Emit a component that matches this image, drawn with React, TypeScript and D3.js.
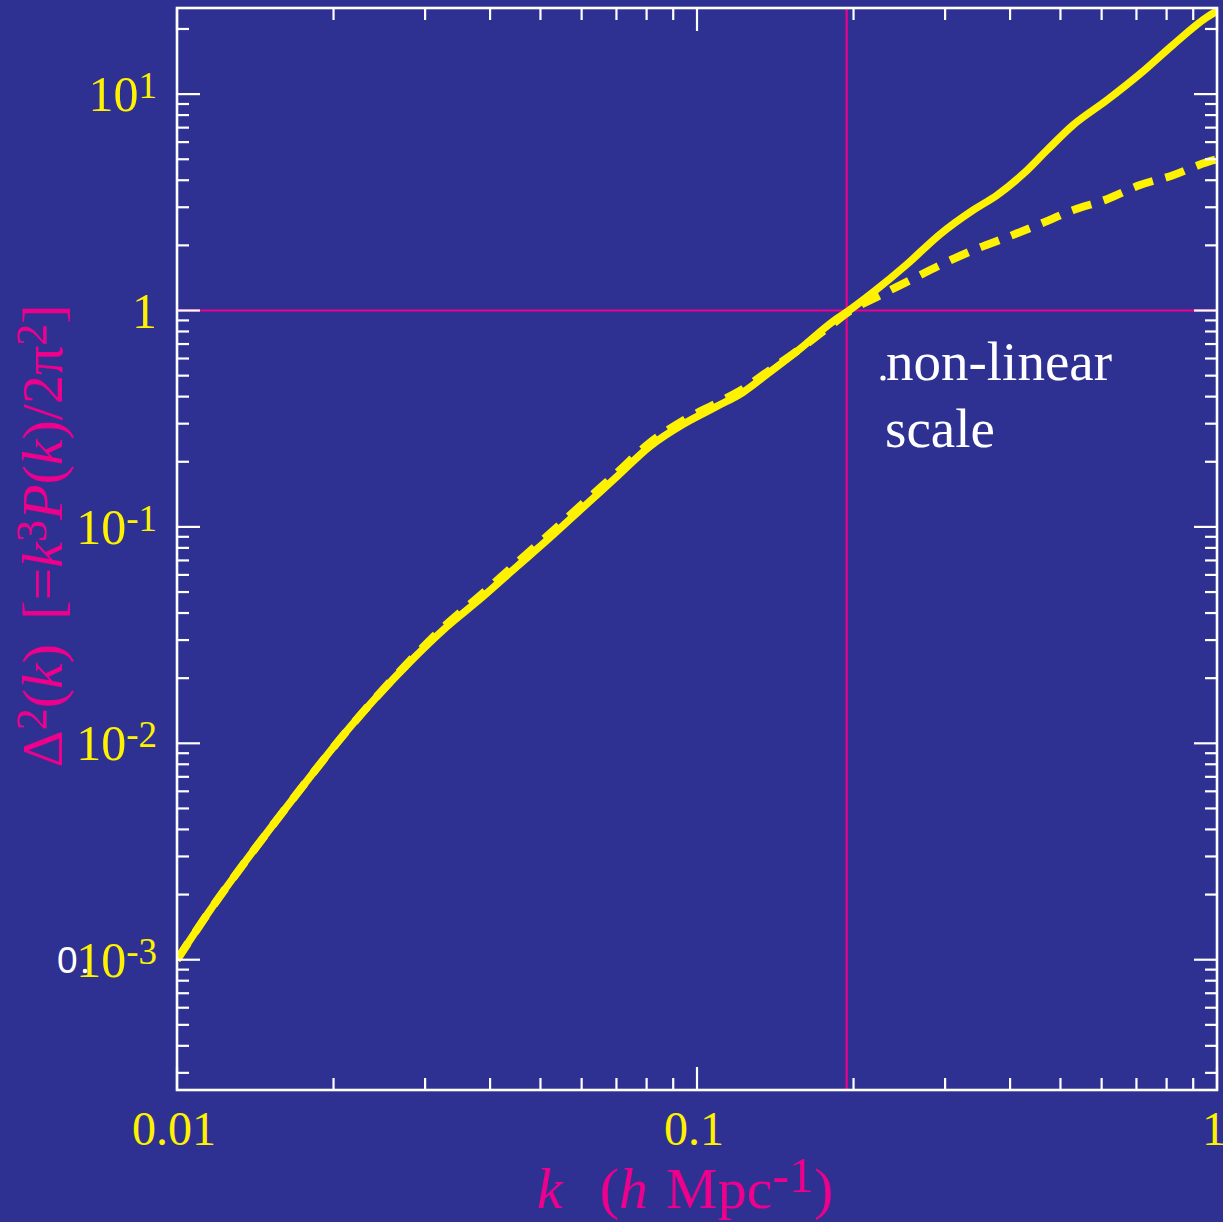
import React from "react";
import * as d3 from "d3";

// k values (h/Mpc) for the non-linear (solid) curve
const kSolid = [0.01, 0.01159, 0.01344, 0.01557, 0.01804, 0.02092, 0.02425, 0.0281, 0.03258, 0.03878, 0.04506, 0.05217, 0.06036, 0.07017, 0.08122, 0.094, 0.1093, 0.1226, 0.1363, 0.1578, 0.1826, 0.1943, 0.2181, 0.2534, 0.2933, 0.3396, 0.3775, 0.4235, 0.4711, 0.5286, 0.6143, 0.7111, 0.823, 0.9567, 1.0];
const deltaSolid = [0.001, 0.0017, 0.00278, 0.00444, 0.00702, 0.01096, 0.01644, 0.02388, 0.0336, 0.0477, 0.0656, 0.0893, 0.123, 0.171, 0.236, 0.298, 0.361, 0.419, 0.507, 0.665, 0.89, 0.985, 1.214, 1.636, 2.25, 2.91, 3.41, 4.27, 5.51, 7.19, 9.38, 12.4, 16.9, 22.7, 24.2];

// k values for the linear (dashed) curve
const kDashed = [0.01, 0.01159, 0.01344, 0.01557, 0.01804, 0.02092, 0.02425, 0.0281, 0.03258, 0.03878, 0.04506, 0.05217, 0.06036, 0.07017, 0.08122, 0.094, 0.1093, 0.1226, 0.1363, 0.1578, 0.1826, 0.1943, 0.2249, 0.2568, 0.2933, 0.3396, 0.3946, 0.4566, 0.5286, 0.6143, 0.7111, 0.823, 0.9567, 1.0];
const deltaDashed = [0.001, 0.0017, 0.00278, 0.00444, 0.00702, 0.01096, 0.0165, 0.0242, 0.0345, 0.0495, 0.0684, 0.0932, 0.1285, 0.178, 0.245, 0.31, 0.374, 0.434, 0.519, 0.665, 0.87, 0.975, 1.176, 1.38, 1.62, 1.9, 2.18, 2.51, 2.91, 3.27, 3.8, 4.22, 4.85, 5.0];

const xTickValues = [0.01, 0.1, 1];
const xTickLabels = ["0.01", "0.1", "1"];
const yTickValues = [1e-3, 1e-2, 1e-1, 1, 10];
const yTickBase = ["10", "10", "10", "1", "10"];
const yTickExp = ["-3", "-2", "-1", "", "1"];

const kNonLinear = 0.194;
const deltaUnity = 1;

const BG = "#2E3192";
const YEL = "#FFF200";
const PINK = "#EC008C";
const WHITE = "#FFFFFF";
const SERIF = "'Liberation Serif', 'DejaVu Serif', serif";

export default function App() {
  const W = 1223, H = 1222;
  const x = d3.scaleLog().domain([0.01, 1]).range([177, 1217]);
  const y = d3.scaleLog().domain([2.5e-4, 25]).range([1090, 8]);
  const [x0, x1] = x.range();
  const [y0, y1] = y.range();

  const line = d3
    .line<[number, number]>()
    .x((d) => x(d[0]))
    .y((d) => y(d[1]))
    .curve(d3.curveMonotoneX);

  const solidPath = line(kSolid.map((k, i) => [k, deltaSolid[i]]) as [number, number][]) || "";
  const dashedPath = line(kDashed.map((k, i) => [k, deltaDashed[i]]) as [number, number][]) || "";

  const xTicks: { v: number; major: boolean }[] = [];
  for (let e = -2; e <= 0; e++) {
    for (let m = 1; m <= 9; m++) {
      const v = m * Math.pow(10, e);
      if (v >= 0.01 - 1e-12 && v <= 1 + 1e-12) xTicks.push({ v, major: m === 1 });
    }
  }
  const yTicks: { v: number; major: boolean }[] = [];
  for (let e = -4; e <= 1; e++) {
    for (let m = 1; m <= 9; m++) {
      const v = m * Math.pow(10, e);
      if (v >= 2.5e-4 - 1e-12 && v <= 25 + 1e-9) yTicks.push({ v, major: m === 1 });
    }
  }
  const MAJ = 23, MIN = 12;

  return (
    <svg
      width={W}
      height={H}
      style={{ position: "absolute", left: 0, top: 0, display: "block" }}
      xmlns="http://www.w3.org/2000/svg"
    >
      <defs>
        <clipPath id="plotClip">
          <rect x={x0} y={y1} width={x1 - x0} height={y0 - y1} />
        </clipPath>
      </defs>
      <rect x={0} y={0} width={W} height={H} fill={BG} />

      {/* reference lines */}
      <line x1={x0} x2={x1} y1={y(deltaUnity)} y2={y(deltaUnity)} stroke={PINK} strokeWidth={2.2} />
      <line x1={x(kNonLinear)} x2={x(kNonLinear)} y1={y1} y2={y0} stroke={PINK} strokeWidth={2.2} />

      {/* curves */}
      <g clipPath="url(#plotClip)">
        <path d={dashedPath} fill="none" stroke={YEL} strokeWidth={8} strokeDasharray="20 13" />
        <path d={solidPath} fill="none" stroke={YEL} strokeWidth={7.5} strokeLinejoin="round" />
      </g>

      {/* ticks */}
      <g stroke={WHITE} strokeWidth={2.2}>
        {xTicks.map((t, i) => (
          <g key={"xt" + i}>
            <line x1={x(t.v)} x2={x(t.v)} y1={y0} y2={y0 - (t.major ? MAJ : MIN)} />
            <line x1={x(t.v)} x2={x(t.v)} y1={y1} y2={y1 + (t.major ? MAJ : MIN)} />
          </g>
        ))}
        {yTicks.map((t, i) => (
          <g key={"yt" + i}>
            <line x1={x0} x2={x0 + (t.major ? MAJ : MIN)} y1={y(t.v)} y2={y(t.v)} />
            <line x1={x1} x2={x1 - (t.major ? MAJ : MIN)} y1={y(t.v)} y2={y(t.v)} />
          </g>
        ))}
      </g>

      {/* frame */}
      <rect x={x0} y={y1} width={x1 - x0} height={y0 - y1} fill="none" stroke={WHITE} strokeWidth={2.6} />

      {/* x tick labels */}
      {xTickValues.map((v, i) => (
        <text key={"xl" + i} x={x(v) - 3} y={1145} fill={YEL} fontFamily={SERIF} fontSize={48} textAnchor="middle">
          {xTickLabels[i]}
        </text>
      ))}

      {/* y tick labels */}
      {yTickValues.map((v, i) => (
        <text key={"yl" + i} x={157} y={y(v) + 17} fill={YEL} fontFamily={SERIF} fontSize={50} textAnchor="end">
          <tspan>{yTickBase[i]}</tspan>
          {yTickExp[i] ? (
            <tspan fontSize={37} dy={-13}>
              {yTickExp[i]}
            </tspan>
          ) : null}
        </text>
      ))}

      {/* stray white glyphs */}
      <text x={57} y={973} fill={WHITE} fontFamily="'Liberation Sans', Arial, sans-serif" fontSize={37}>
        0
      </text>
      <circle cx={85} cy={971} r={2.3} fill={WHITE} />

      {/* annotation */}
      <circle cx={883} cy={378} r={2.6} fill={WHITE} />
      <text x={886} y={380} fill={WHITE} fontFamily={SERIF} fontSize={55}>
        non-linear
      </text>
      <text x={885} y={447} fill={WHITE} fontFamily={SERIF} fontSize={55}>
        scale
      </text>

      {/* x axis title */}
      <text x={537} y={1208} fill={PINK} fontFamily={SERIF} fontSize={58} textAnchor="start">
        <tspan fontStyle="italic">k</tspan>
        <tspan dx={37}>(</tspan>
        <tspan fontStyle="italic">h</tspan>
        <tspan dx={18}>Mpc</tspan>
        <tspan fontSize={50} dy={-16}>-1</tspan>
        <tspan dy={16}>)</tspan>
      </text>

      {/* y axis title */}
      <text
        transform="translate(62,536) rotate(-90)"
        fill={PINK}
        fontFamily={SERIF}
        fontSize={58}
        textAnchor="middle"
      >
        <tspan>Δ</tspan>
        <tspan fontSize={44} dy={-16}>2</tspan>
        <tspan dy={16}>(</tspan>
        <tspan fontStyle="italic">k</tspan>
        <tspan>)</tspan>
        <tspan dx={24}>[=</tspan>
        <tspan fontStyle="italic">k</tspan>
        <tspan fontSize={44} dy={-16}>3</tspan>
        <tspan dy={16} fontStyle="italic">P</tspan>
        <tspan>(</tspan>
        <tspan fontStyle="italic">k</tspan>
        <tspan>)/2π</tspan>
        <tspan fontSize={44} dy={-16}>2</tspan>
        <tspan dy={16}>]</tspan>
      </text>
    </svg>
  );
}
